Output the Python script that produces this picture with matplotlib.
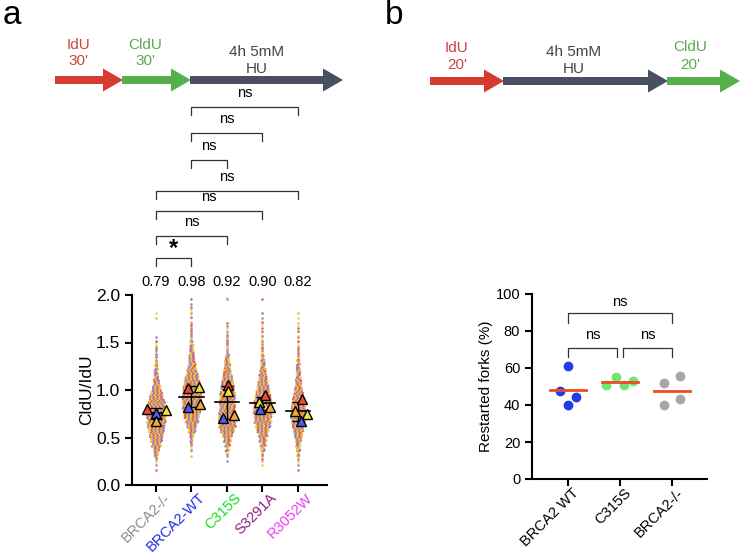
import numpy as np
from matplotlib import pyplot as plt
from matplotlib.transforms import ScaledTranslation

plt.rcParams['font.family'] = ['Liberation Sans', 'DejaVu Sans']

## DATA
# Panel a: fibre ratio distributions, counts of fibres per 0.05 bin
BIN_START = 0.15
BIN_W = 0.05
groups_a = ["BRCA2-/-", "BRCA2-WT", "C315S", "S3291A", "R3052W"]
group_colors_a = ["#8c8c8c", "#1c2de6", "#19e019", "#8a1f8a", "#f03cf0"]
counts_a = [
    [1, 2, 4, 8, 12, 18, 24, 28, 32, 36, 38, 40, 40, 38, 34, 28, 22, 16, 12, 9,
     7, 6, 5, 4, 3, 3, 2, 2, 1, 0, 0, 0, 1, 1, 0, 0, 0, 0],
    [0, 0, 0, 1, 3, 4, 5, 8, 14, 20, 26, 32, 36, 38, 40, 40, 38, 36, 32, 28,
     22, 18, 14, 11, 9, 7, 6, 5, 4, 3, 3, 2, 2, 2, 2, 1, 1, 0],
    [0, 0, 1, 3, 6, 10, 14, 20, 28, 34, 36, 36, 34, 32, 32, 32, 30, 28, 24, 20,
     16, 13, 11, 9, 6, 4, 4, 3, 3, 2, 2, 1, 0, 0, 0, 0, 2, 0],
    [0, 1, 2, 4, 7, 10, 14, 18, 24, 30, 34, 36, 38, 38, 36, 32, 28, 24, 20, 16,
     13, 10, 8, 6, 5, 4, 4, 3, 3, 2, 2, 2, 1, 1, 0, 0, 1, 0],
    [1, 2, 3, 5, 7, 9, 12, 16, 20, 24, 28, 30, 30, 28, 26, 22, 18, 14, 12, 10,
     8, 7, 6, 5, 4, 3, 2, 2, 2, 2, 2, 1, 1, 1, 0, 0, 0, 0],
]
# replicate means (red, yellow, blue, orange)
rep_means_a = [
    [0.80, 0.79, 0.76, 0.67],
    [1.02, 1.03, 0.82, 0.85],
    [1.05, 0.99, 0.71, 0.74],
    [0.95, 0.87, 0.80, 0.82],
    [0.91, 0.75, 0.67, 0.78],
]
medians_a = ["0.79", "0.98", "0.92", "0.90", "0.82"]
# comparisons (group i, group j, label)
comparisons_a = [(1, 4, "ns"), (1, 3, "ns"), (1, 2, "ns"), (0, 4, "ns"),
                 (0, 3, "ns"), (0, 2, "ns"), (0, 1, "*")]

# Panel b: restarted forks
groups_b = ["BRCA2 WT", "C315S", "BRCA2-/-"]
values_b = [
    [61.3, 47.6, 44.5, 39.8],
    [51.0, 55.0, 51.0, 53.0],
    [51.7, 55.7, 40.0, 43.4],
]
comparisons_b = [(0, 2, "ns"), (0, 1, "ns"), (1, 2, "ns")]

## STYLE / LAYOUT
rep_colors = ["#e9584f", "#e6d444", "#8080f0", "#f5b347"]
tri_colors = ["#e84a3c", "#f0e23c", "#4f5cf0", "#f2a83a"]
tri_dx = [
    [-0.25, 0.28, 0.0, 0.0],
    [-0.09, 0.21, -0.09, 0.23],
    [0.03, 0.03, -0.11, 0.20],
    [0.06, -0.11, -0.08, 0.20],
    [0.10, 0.25, 0.08, -0.08],
]
dot_colors_b = ["#1f3de6", "#6fe66f", "#a6a6a6"]
dot_dx_b = [
    [0.0, -0.15, 0.15, 0.0],
    [-0.27, -0.08, 0.08, 0.25],
    [-0.15, 0.15, -0.15, 0.15],
]
DX = 0.054
ARROW_RED = "#d63b30"
ARROW_GREEN = "#55b04a"
ARROW_GRAY = "#4a4e62"


def swarm(ax, xc, counts):
    k = 0
    for b, n in enumerate(counts):
        if n == 0:
            continue
        y0 = BIN_START + b * BIN_W
        for r in range(4):
            m = n // 4 + (1 if r < n % 4 else 0)
            if m == 0:
                continue
            yy = y0 + (r + 0.5) * BIN_W / 4
            shift = 0.5 * DX if (r % 2 and m > 1) else 0.0
            xs = xc + (np.arange(m) - (m - 1) / 2) * DX + shift
            cols = [rep_colors[(k + j * 3 + b) % 4] for j in range(m)]
            k += m
            ax.scatter(xs, np.full(m, yy), s=3.2, c=cols, linewidths=0, zorder=2)


def bracket(ax, x1, x2, y, leg, label, ly, **kw):
    ax.plot([x1, x1, x2, x2], [y - leg, y, y, y - leg], color="#333333",
            lw=0.9, clip_on=False)
    ax.text((x1 + x2) / 2, ly, label, ha="center", va="center",
            clip_on=False, **kw)


def style_axes(ax):
    for s in ["top", "right"]:
        ax.spines[s].set_visible(False)
    for s in ["left", "bottom"]:
        ax.spines[s].set_linewidth(1.5)
    ax.tick_params(width=1.5, length=5)


def shift_labels(fig, labels, dx_pt, dy_pt):
    off = ScaledTranslation(dx_pt / 72, dy_pt / 72, fig.dpi_scale_trans)
    for lab in labels:
        lab.set_transform(lab.get_transform() + off)


def main():
    fig = plt.figure(figsize=(7.41, 5.54), dpi=100)

    # ---- panel a ----
    ax = fig.add_axes([132 / 741, 1 - 485 / 554, 195 / 741, 190 / 554])
    style_axes(ax)
    for i, counts in enumerate(counts_a):
        swarm(ax, i, counts)
        m = np.mean(rep_means_a[i])
        sd = np.std(rep_means_a[i], ddof=1)
        ax.plot([i - 0.34, i + 0.34], [m, m], color="k", lw=1.2, zorder=3)
        ax.errorbar(i, m, yerr=sd, color="k", lw=1.0, capsize=4,
                    capthick=1.0, zorder=3)
        for v, dx, c in zip(rep_means_a[i], tri_dx[i], tri_colors):
            ax.plot(i + dx, v, marker="^", ms=6.5, mfc=c, mec="k", mew=1.0,
                    ls="none", zorder=4)

    ax.set_xlim(-0.676, 4.817)
    ax.set_ylim(0, 2.0)
    ax.set_yticks([0, 0.5, 1.0, 1.5, 2.0])
    ax.set_yticklabels(["0.0", "0.5", "1.0", "1.5", "2.0"], fontsize=12.5)
    ax.set_ylabel("CldU/IdU", fontsize=12.5, labelpad=1)
    ax.set_xticks(range(len(groups_a)))
    ax.set_xticklabels(groups_a, rotation=45, ha="right",
                       rotation_mode="anchor", fontsize=10.5)
    ax.tick_params(axis="x", pad=0)
    for lab, c in zip(ax.get_xticklabels(), group_colors_a):
        lab.set_color(c)
    shift_labels(fig, ax.get_xticklabels(), 5, 1)

    # medians above the plot
    for i, t in enumerate(medians_a):
        ax.text(i, 2.137, t, ha="center", va="center", fontsize=10.5,
                clip_on=False)

    # significance brackets (y in axis units, stacked upward)
    levels = [3.979, 3.705, 3.421, 3.095, 2.884, 2.621, 2.389]
    for (i, j, lab), yb in zip(comparisons_a, levels):
        if lab == "*":
            bracket(ax, i, j, yb, 0.084, lab, yb + 0.10, fontsize=17,
                    fontweight="bold")
        else:
            bracket(ax, i, j, yb, 0.084, lab, yb + 0.15, fontsize=10.5)

    # ---- panel b ----
    bx = fig.add_axes([532 / 741, 1 - 479 / 554, 175 / 741, 185 / 554])
    style_axes(bx)
    for i, vals in enumerate(values_b):
        bx.plot(np.array(dot_dx_b[i]) + i, vals, "o", ms=6, color=dot_colors_b[i],
                ls="none", zorder=2)
        m = np.mean(vals)
        bx.plot([i - 0.34, i + 0.34], [m, m], color="#f04a22", lw=2.0, zorder=3)
    bx.set_xlim(-0.692, 2.673)
    bx.set_ylim(0, 100)
    bx.set_yticks([0, 20, 40, 60, 80, 100])
    bx.tick_params(axis="y", labelsize=10.5)
    bx.set_ylabel("Restarted forks (%)", fontsize=11, labelpad=2)
    bx.set_xticks(range(len(groups_b)))
    bx.set_xticklabels(groups_b, rotation=45, ha="right",
                       rotation_mode="anchor", fontsize=10.5)
    bx.tick_params(axis="x", pad=0)
    shift_labels(fig, bx.get_xticklabels(), 3, 0)

    bracket(bx, 0, 2, 89.7, 5.4, "ns", 95.7, fontsize=10.5)
    bracket(bx, 0, 0.94, 70.8, 5.0, "ns", 77.8, fontsize=10.5)
    bracket(bx, 1.06, 2, 70.8, 5.0, "ns", 77.8, fontsize=10.5)

    # ---- overlay in pixel units: panel letters and protocol arrows ----
    ov = fig.add_axes([0, 0, 1, 1])
    ov.set_xlim(0, 741)
    ov.set_ylim(554, 0)
    ov.axis("off")

    def arrow(x1, x2, y, color):
        ov.arrow(x1, y, x2 - x1, 0, width=8, head_width=23, head_length=20,
                 length_includes_head=True, color=color, lw=0)

    def label(x, y1, y2, t1, t2, color):
        ov.text(x, y1, t1, ha="center", va="center", fontsize=11, color=color)
        ov.text(x, y2, t2, ha="center", va="center", fontsize=11, color=color)

    ov.text(12, 15, "a", ha="center", va="center", fontsize=24)
    arrow(55, 123, 80, ARROW_RED)
    arrow(122, 191, 80, ARROW_GREEN)
    arrow(190, 343, 80, ARROW_GRAY)
    label(78, 45, 61, "IdU", "30'", "#c9463a")
    label(145, 45, 61, "CldU", "30'", "#5aaa4e")
    label(257, 52, 69, "4h 5mM", "HU", "#444444")

    ov.text(394, 15, "b", ha="center", va="center", fontsize=24)
    arrow(430, 504, 81, ARROW_RED)
    arrow(503, 668, 81, ARROW_GRAY)
    arrow(667, 740, 81, ARROW_GREEN)
    label(457, 48, 65, "IdU", "20'", "#c9463a")
    label(574, 52, 69, "4h 5mM", "HU", "#444444")
    label(690, 47, 65, "CldU", "20'", "#5aaa4e")

    fig.savefig("out.png", dpi=100)


if __name__ == "__main__":
    main()
